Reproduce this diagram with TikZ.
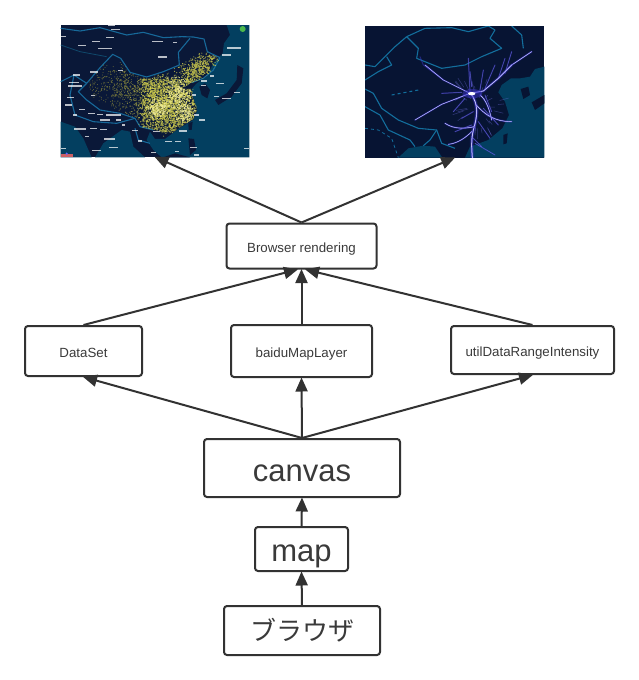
\documentclass[tikz,border=0pt]{standalone}
\usepackage{fontspec}
\setmainfont{Liberation Sans}
\newfontfamily\jpfont{Noto Sans CJK JP}
\usetikzlibrary{arrows.meta}
\definecolor{ink}{HTML}{323232}
\definecolor{txt}{HTML}{3A3A3A}
\definecolor{landa}{HTML}{0A1838}
\definecolor{landb}{HTML}{071433}
\definecolor{seaa}{HTML}{033F60}
\definecolor{borda}{HTML}{17699A}
\definecolor{bordb}{HTML}{136E9C}
\definecolor{dotdim}{HTML}{8C8A3A}
\definecolor{dotyel}{HTML}{D8D44E}
\definecolor{dotlit}{HTML}{F2EE9A}
\definecolor{vio}{HTML}{3B35C8}
\definecolor{blu}{HTML}{7C78F2}
\tikzset{
  flowbox/.style={draw=ink,line width=2pt,rounded corners=3pt,fill=white,text=txt,inner sep=0pt},
  smalltxt/.style={flowbox,font=\fontsize{13.3}{15}\selectfont,text height=12.6pt,text depth=0pt},
  bigtxt/.style={flowbox,font=\fontsize{31}{34}\selectfont,text height=26.6pt,text depth=0pt},
  maptxt/.style={flowbox,font=\fontsize{31}{34}\selectfont,text height=25pt,text depth=0pt},
  jptxt/.style={flowbox,font=\jpfont\fontsize{26}{30}\selectfont},
  mapbox/.style={inner sep=0pt,outer sep=0pt},
  flowarrow/.style={draw=ink,line width=2pt,-{Triangle[length=14pt,width=12pt]},shorten >=-0.5pt},
  borderline/.style={line width=1.1pt,line join=round},
  maplabel/.style={white,opacity=.72}
}
\newcommand{\lblbar}[3]{\fill[maplabel] (#1-#3,#2-2.3) rectangle (#1+#3,#2+2.3);}
\newcommand{\glow}[2][3]{%
  \draw[vio,opacity=.28,line width=#1*2.4pt,line cap=round,line join=round] #2;
  \draw[vio,opacity=.6,line width=#1*1.2pt,line cap=round,line join=round] #2;
  \draw[blu,opacity=.85,line width=#1*.65pt,line cap=round,line join=round] #2;
  \draw[white,opacity=.8,line width=#1*.3pt,line cap=round,line join=round] #2;}
\begin{document}
\begin{tikzpicture}[x=1pt,y=-1pt]
\useasboundingbox (0,0) rectangle (638,680);
\fill[white] (0,0) rectangle (638,680);

% ---------- left map
\node[mapbox,fill=landa,minimum width=188.6pt,minimum height=132pt] (mapa) at (155,91) {};
\begin{scope}[shift={(50,15)},x=0.33333pt,y=-0.33333pt]
\clip (32,30) rectangle (598,427);
\fill[seaa] (530,30) -- (540,60) -- (522,85) -- (518,115) -- (490,145) -- (470,185) -- (440,205) -- (425,222) -- (430,250) -- (442,285) -- (430,315) -- (385,342) -- (345,372) -- (315,372) -- (300,350) -- (290,375) -- (310,405) -- (335,427) -- (598,427) -- (598,30) -- cycle;
\fill[seaa] (32,320) -- (75,335) -- (100,370) -- (125,427) -- (32,427) -- cycle;
\fill[seaa] (135,427) -- (160,385) -- (215,345) -- (240,350) -- (250,395) -- (285,427) -- cycle;
% dark islands
\fill[landa] (495,255) -- (530,235) -- (560,195) -- (562,150) -- (580,160) -- (575,205) -- (545,245) -- (505,270) -- cycle;
\fill[landa] (465,205) -- (480,225) -- (472,250) -- (455,240) -- (448,215) -- cycle;
\fill[landa] (415,370) -- (432,372) -- (438,405) -- (420,420) -- cycle;
\fill[landa] (415,325) -- (428,320) -- (425,345) -- (416,345) -- cycle;
\fill[landa] (340,427) -- (375,415) -- (420,427) -- cycle;
% borders
\draw[borda,borderline] (32,40) -- (90,48) -- (150,38) -- (230,60) -- (280,52) -- (340,68) -- (395,65) -- (430,66) -- (462,72) -- (472,110) -- (510,128);
\draw[borda,borderline] (72,180) -- (110,205) -- (150,158) -- (188,118) -- (212,130) -- (240,172) -- (290,186) -- (340,170) -- (388,150) -- (385,112) -- (420,70);
\draw[borda,borderline] (510,128) -- (490,165) -- (460,190) -- (425,203);
\draw[borda,borderline] (110,205) -- (85,230) -- (110,255) -- (150,285) -- (210,295) -- (255,310) -- (270,335) -- (310,345);
\draw[borda,borderline] (32,200) -- (72,180) -- (60,240) -- (75,300) -- (130,320) -- (200,325) -- (255,310);
\draw[borda,borderline] (255,340) -- (265,375) -- (300,385);
\draw[borda!70!black,line width=.8pt] (32,90) -- (90,110) -- (170,125);
% data dots
\pgfmathsetseed{42}
\begin{scope}
\clip (112,205) -- (150,160) -- (185,120) -- (212,132) -- (240,175) -- (290,190) -- (340,173) -- (392,152) -- (386,112) -- (420,72) -- (460,74) -- (470,112) -- (510,130) -- (490,165) -- (460,190) -- (422,204) -- (395,222) -- (430,222) -- (425,240) -- (442,282) -- (430,312) -- (382,342) -- (345,372) -- (330,348) -- (268,335) -- (258,310) -- (210,290) -- (130,250) -- cycle;
\fill[dotdim,opacity=.75] \foreach \i in {1,...,650} {({225+75*(rand+rand)},{215+40*(rand+rand)}) circle (1.5)};
\fill[dotyel,opacity=.6] \foreach \i in {1,...,420} {({315+60*(rand+rand)},{255+45*(rand+rand)}) circle (1.8)};
\begin{scope}[shift={(445,158)},rotate=35]
\fill[dotyel,opacity=.8] \foreach \i in {1,...,520} {({38*(rand+rand)},{20*(rand+rand)}) circle (1.8)};
\end{scope}
\fill[dotyel,opacity=.7] \foreach \i in {1,...,1500} {({360+85*rand},{272+80*rand}) circle (1.9)};
\fill[dotyel,opacity=.8] \foreach \i in {1,...,900} {({362+50*(rand+rand)},{272+52*(rand+rand)}) circle (1.9)};
\fill[dotlit,opacity=.85] \foreach \i in {1,...,260} {({385+22*(rand+rand)},{240+30*(rand+rand)}) circle (1.8)};
\fill[dotlit,opacity=.85] \foreach \i in {1,...,200} {({325+20*(rand+rand)},{280+18*(rand+rand)}) circle (1.8)};
\fill[dotlit,opacity=.85] \foreach \i in {1,...,140} {({405+18*(rand+rand)},{295+18*(rand+rand)}) circle (1.8)};
\end{scope}
% map labels (unreadable at this size: small light bars)
\foreach \a/\b/\c in {185/32/10, 196/44/13, 40/65/8, 180/68/13, 137/80/12, 322/80/17, 375/82/6, 97/92/12, 165/100/20, 337/126/14, 552/99/22, 530/120/14, 132/171/13, 212/166/8, 80/180/11, 72/203/15, 75/213/22, 62/247/11, 130/241/6, 55/270/11, 95/283/9, 75/300/6, 125/296/10, 150/298/8, 190/300/22, 165/315/16, 205/315/8, 90/342/17, 130/340/10, 160/343/11, 220/330/5, 255/347/9, 178/372/17, 110/365/6, 190/398/14, 140/407/13, 310/412/8, 355/380/10, 385/380/9, 400/348/12, 320/350/11, 440/300/8, 455/315/9, 510/205/13, 462/198/9, 460/212/7, 432/240/6, 485/183/6, 530/250/13, 560/232/9, 590/400/7, 430/398/11, 380/410/6, 40/400/8, 440/420/7, 500/245/7, 270/378/6}
  {\lblbar{\a}{\b}{\c}}
\fill[green!60!black!70!white] (578,42) circle (9);
\fill[red!60!white,opacity=.8] (33,418) rectangle (70,427);
\fill[blue!60] (50,416) circle (3.5);
\end{scope}

% ---------- right map
\node[mapbox,fill=landb,minimum width=179.4pt,minimum height=131.7pt] (mapb) at (454.7,91.8) {};
\begin{scope}[shift={(355,15)},x=0.33333pt,y=-0.33333pt]
\clip (30,33) rectangle (568,428);
\fill[seaa] (568,155) -- (540,162) -- (525,185) -- (495,190) -- (468,190) -- (440,210) -- (430,232) -- (450,260) -- (462,300) -- (442,340) -- (400,375) -- (345,395) -- (330,428) -- (568,428) -- cycle;
\fill[seaa] (130,428) -- (160,400) -- (205,392) -- (240,395) -- (262,428) -- cycle;
\fill[landb] (497,222) -- (520,215) -- (525,240) -- (505,252) -- cycle;
\fill[landb] (530,262) -- (568,240) -- (568,265) -- (540,285) -- cycle;
\fill[landb] (445,360) -- (458,355) -- (455,385) -- (445,388) -- cycle;
\draw[bordb,borderline] (30,150) -- (60,155) -- (90,125) -- (120,95) -- (155,65) -- (190,100) -- (185,130) -- (260,160) -- (330,150) -- (380,125) -- (440,100) -- (405,70) -- (420,45) -- (400,33);
\draw[bordb,borderline] (30,195) -- (70,170) -- (110,150) -- (95,125);
\draw[bordb,borderline] (155,65) -- (210,40) -- (290,38) -- (340,50) -- (400,33);
\draw[bordb,borderline] (30,222) -- (55,235) -- (80,280) -- (130,315) -- (190,340) -- (245,345) -- (260,385) -- (300,400);
\draw[bordb,borderline] (30,275) -- (75,300) -- (100,345) -- (165,375) -- (180,395);
\draw[bordb,borderline] (245,345) -- (225,375) -- (205,392);
\draw[bordb,borderline,dashed] (110,240) -- (190,225);
\draw[bordb,borderline] (470,33) -- (500,60) -- (505,100);
\draw[bordb,line width=.8pt,dashed] (30,340) -- (70,345) -- (110,370) -- (130,428);
% flow streaks
\pgfmathsetseed{7}
\foreach \i in {1,...,32}
  {\pgfmathsetmacro{\ang}{rnd*360}
   \pgfmathsetmacro{\ra}{25+rnd*50}
   \pgfmathsetmacro{\rb}{\ra+12+rnd*22}
   \draw[blu,opacity=.35,line width=.55pt,line cap=round] ({365+\ra*cos(\ang)},{275+\ra*sin(\ang)}) -- ({365+\rb*cos(\ang)},{275+\rb*sin(\ang)});}
\foreach \a/\b/\c/\d in {340/130/345/230, 345/170/350/215, 385/165/375/225, 420/150/390/220, 450/130/430/190, 470/110/450/175, 300/255/330/240, 260/235/320/232, 295/290/330/250, 410/290/390/240, 430/330/385/280, 405/370/370/320, 320/310/355/290, 300/350/350/330, 380/395/355/370, 420/420/360/385}
  {\draw[vio,opacity=.4,line width=1.3pt,line cap=round] (\a,\b) -- (\c,\d);
   \draw[blu,opacity=.6,line width=.5pt,line cap=round] (\a,\b) -- (\c,\d);}
\draw[vio,opacity=.5,line width=1pt,line cap=round] (195,125) -- (205,150) -- (265,195);
\glow[.8]{(210,150) -- (265,195) -- (345,235)}
\glow[.9]{(530,110) -- (470,150)}
\glow[1.3]{(470,150) -- (430,190) -- (385,228) -- (345,235)}
\glow[.8]{(180,315) -- (260,268) -- (345,235)}
\glow[1.6]{(345,232) .. controls (375,270) and (365,310) .. (355,345) .. controls (348,375) and (350,400) .. (352,428)}
\glow[.9]{(362,268) .. controls (390,300) and (420,320) .. (470,320)}
\glow[.9]{(270,325) .. controls (300,345) and (335,340) .. (358,335)}
\glow[.8]{(280,388) .. controls (310,385) and (335,365) .. (350,350)}
\glow[.9]{(375,240) .. controls (395,255) and (405,290) .. (410,315)}
\fill[vio,opacity=.5] (352,236) ellipse (30 and 14);
\fill[white] (350,236) ellipse (11 and 5);
\end{scope}

% ---------- flow boxes
\node[smalltxt,minimum width=150pt,minimum height=45pt] (browser) at (301.5,246) {Browser rendering};
\node[smalltxt,minimum width=117pt,minimum height=50pt] (dataset) at (83.5,351) {DataSet};
\node[smalltxt,minimum width=141pt,minimum height=52pt] (layer) at (301.5,351) {baiduMapLayer};
\node[smalltxt,minimum width=163pt,minimum height=48pt] (util) at (532.5,350) {utilDataRangeIntensity};
\node[bigtxt,minimum width=196pt,minimum height=58pt] (canvas) at (302,468) {canvas};
\node[maptxt,minimum width=93pt,minimum height=44pt] (mapnode) at (301.5,549) {map};
\node[jptxt,minimum width=156pt,minimum height=49pt] (browserjp) at (302,630.5) {ブラウザ};

% ---------- connectors
\draw[flowarrow] (browser.north) -- (mapa.south);
\draw[flowarrow] (browser.north) -- (mapb.south);
\draw[flowarrow] (dataset.north) -- ([xshift=-4pt]browser.south);
\draw[flowarrow] (layer.north) -- (browser.south);
\draw[flowarrow] (util.north) -- ([xshift=4pt]browser.south);
\draw[flowarrow] (canvas.north) -- (dataset.south);
\draw[flowarrow] (canvas.north) -- (layer.south);
\draw[flowarrow] (canvas.north) -- (util.south);
\draw[flowarrow] (mapnode.north) -- (canvas.south);
\draw[flowarrow] (browserjp.north) -- (mapnode.south);
\end{tikzpicture}
\end{document}
